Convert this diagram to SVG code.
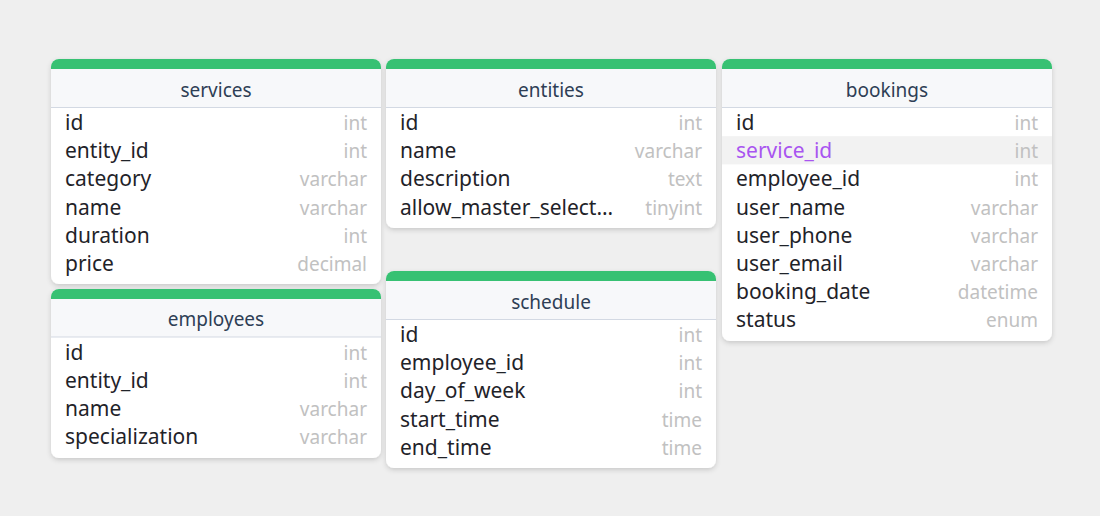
<svg xmlns="http://www.w3.org/2000/svg" width="1100" height="516" viewBox="0 0 1100 516">
<defs>
<filter id="sh" x="-10%" y="-10%" width="120%" height="130%">
<feDropShadow dx="0" dy="2" stdDeviation="2.5" flood-color="#000" flood-opacity="0.16"/>
</filter>
</defs>
<style>
.card{fill:#fff;filter:url(#sh)}
.band{fill:#37c173}
.head{fill:#f7f8fa}
.sep{stroke:#d3d9e3;stroke-width:1}
.title{font-family:"Noto Sans","Open Sans",sans-serif;font-size:19px;fill:#2e3e55;text-anchor:middle}
.f{font-family:"Noto Sans","Open Sans",sans-serif;font-size:21px;fill:#1f2329}
.t{font-family:"Noto Sans","Open Sans",sans-serif;font-size:19px;fill:#c1c1c1;text-anchor:end}
.hl{fill:#f2f2f2}
.fk{fill:#a955f0}
</style>
<rect width="1100" height="516" fill="#efefef"/>

<g id="services">
<rect class="card" x="51" y="59" width="330" height="225" rx="8"/>
<path class="band" d="M51 69 V67 A8 8 0 0 1 59 59 H373 A8 8 0 0 1 381 67 V69 Z"/>
<rect class="head" x="51" y="69" width="330" height="38.5"/>
<line class="sep" x1="51" y1="107.5" x2="381" y2="107.5"/>
<text class="title" x="216" y="97">services</text>
<text class="f" x="65" y="130">id</text><text class="t" x="367" y="130">int</text>
<text class="f" x="65" y="158.2">entity_id</text><text class="t" x="367" y="158.2">int</text>
<text class="f" x="65" y="186.4">category</text><text class="t" x="367" y="186.4">varchar</text>
<text class="f" x="65" y="214.6">name</text><text class="t" x="367" y="214.6">varchar</text>
<text class="f" x="65" y="242.8">duration</text><text class="t" x="367" y="242.8">int</text>
<text class="f" x="65" y="271">price</text><text class="t" x="367" y="271">decimal</text>
</g>

<g id="entities">
<rect class="card" x="386" y="59" width="330" height="169" rx="8"/>
<path class="band" d="M386 69 V67 A8 8 0 0 1 394 59 H708 A8 8 0 0 1 716 67 V69 Z"/>
<rect class="head" x="386" y="69" width="330" height="38.5"/>
<line class="sep" x1="386" y1="107.5" x2="716" y2="107.5"/>
<text class="title" x="551" y="97">entities</text>
<text class="f" x="400" y="130">id</text><text class="t" x="702" y="130">int</text>
<text class="f" x="400" y="158.2">name</text><text class="t" x="702" y="158.2">varchar</text>
<text class="f" x="400" y="186.4">description</text><text class="t" x="702" y="186.4">text</text>
<text class="f" x="400" y="214.6">allow_master_select…</text><text class="t" x="702" y="214.6">tinyint</text>
</g>

<g id="bookings">
<rect class="card" x="722" y="59" width="330" height="282" rx="8"/>
<path class="band" d="M722 69 V67 A8 8 0 0 1 730 59 H1044 A8 8 0 0 1 1052 67 V69 Z"/>
<rect class="head" x="722" y="69" width="330" height="38.5"/>
<line class="sep" x1="722" y1="107.5" x2="1052" y2="107.5"/>
<text class="title" x="887" y="97">bookings</text>
<rect class="hl" x="722" y="136.2" width="330" height="28.2"/>
<text class="f" x="736" y="130">id</text><text class="t" x="1038" y="130">int</text>
<text class="f fk" x="736" y="158.2">service_id</text><text class="t" x="1038" y="158.2">int</text>
<text class="f" x="736" y="186.4">employee_id</text><text class="t" x="1038" y="186.4">int</text>
<text class="f" x="736" y="214.6">user_name</text><text class="t" x="1038" y="214.6">varchar</text>
<text class="f" x="736" y="242.8">user_phone</text><text class="t" x="1038" y="242.8">varchar</text>
<text class="f" x="736" y="271">user_email</text><text class="t" x="1038" y="271">varchar</text>
<text class="f" x="736" y="299.2">booking_date</text><text class="t" x="1038" y="299.2">datetime</text>
<text class="f" x="736" y="327.4">status</text><text class="t" x="1038" y="327.4">enum</text>
</g>

<g id="employees">
<rect class="card" x="51" y="289" width="330" height="169" rx="8"/>
<path class="band" d="M51 299 V297 A8 8 0 0 1 59 289 H373 A8 8 0 0 1 381 297 V299 Z"/>
<rect class="head" x="51" y="299" width="330" height="38"/>
<line class="sep" x1="51" y1="337" x2="381" y2="337"/>
<text class="title" x="216" y="325.5">employees</text>
<text class="f" x="65" y="359.5">id</text><text class="t" x="367" y="359.5">int</text>
<text class="f" x="65" y="387.7">entity_id</text><text class="t" x="367" y="387.7">int</text>
<text class="f" x="65" y="415.9">name</text><text class="t" x="367" y="415.9">varchar</text>
<text class="f" x="65" y="444.1">specialization</text><text class="t" x="367" y="444.1">varchar</text>
</g>

<g id="schedule">
<rect class="card" x="386" y="271" width="330" height="197" rx="8"/>
<path class="band" d="M386 281 V279 A8 8 0 0 1 394 271 H708 A8 8 0 0 1 716 279 V281 Z"/>
<rect class="head" x="386" y="281" width="330" height="38.5"/>
<line class="sep" x1="386" y1="319.5" x2="716" y2="319.5"/>
<text class="title" x="551" y="309">schedule</text>
<text class="f" x="400" y="342">id</text><text class="t" x="702" y="342">int</text>
<text class="f" x="400" y="370.2">employee_id</text><text class="t" x="702" y="370.2">int</text>
<text class="f" x="400" y="398.4">day_of_week</text><text class="t" x="702" y="398.4">int</text>
<text class="f" x="400" y="426.6">start_time</text><text class="t" x="702" y="426.6">time</text>
<text class="f" x="400" y="454.8">end_time</text><text class="t" x="702" y="454.8">time</text>
</g>

<g id="connectors"></g>
</svg>
